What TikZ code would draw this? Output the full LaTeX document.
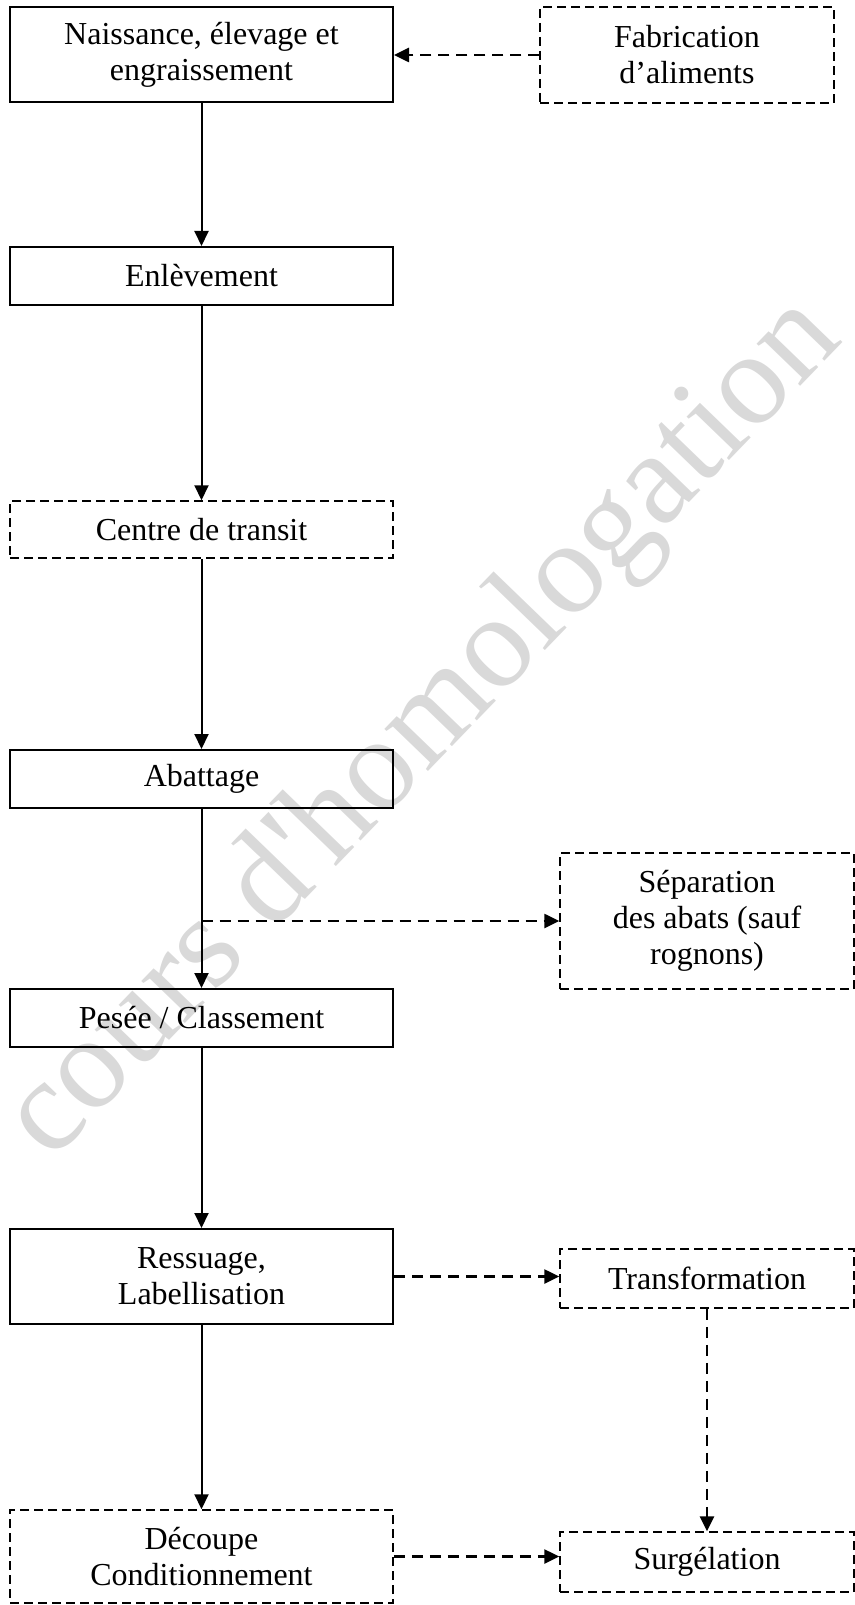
\documentclass[tikz,border=0pt]{standalone}
\usepackage{fontspec}
\setmainfont{Liberation Serif}
\usetikzlibrary{arrows.meta}
\tikzset{
  etape/.style={draw,line width=1pt,minimum width=191.5pt,align=center,inner sep=2pt},
  pointille/.style={dash pattern=on 4.5pt off 2.5pt,line width=0.75pt},
  petit/.style={minimum width=147pt},
  fleche/.style={-{Triangle[length=7.5pt,width=7pt]},line width=1pt},
  flechept/.style={fleche,dash pattern=on 5.5pt off 3.5pt,line width=1.3pt}
}
\begin{document}
\begin{tikzpicture}[x=0.5pt,y=-0.5pt,font=\fontsize{16}{18}\selectfont]
        \useasboundingbox (0,0) rectangle (855,1605);
        % filigrane
        \node[text=black!15,rotate=46,font=\fontsize{66}{70}\selectfont] (filigrane) at (425,730) {cours d\textquotesingle homologation};

        % colonne principale
        \node[etape,minimum height=47.5pt] (naissance) at (201.5,54.5) {Naissance, élevage et\\engraissement};
        \node[etape,minimum height=29pt] (enlevement) at (201.5,276) {Enlèvement};
        \node[etape,pointille,minimum height=28.5pt] (centre) at (201.5,529.5) {Centre de transit};
        \node[etape,minimum height=29pt] (abattage) at (201.5,779) {Abattage};
        \node[etape,minimum height=29pt] (pesee) at (201.5,1018) {Pesée / Classement};
        \node[etape,minimum height=47.5pt] (ressuage) at (201.5,1276.5) {Ressuage,\\Labellisation};
        \node[etape,pointille,minimum height=46.5pt] (decoupe) at (201.5,1556.5) {Découpe\\Conditionnement};

        % colonne de droite
        \node[etape,pointille,petit,minimum height=48pt] (fabrication) at (687,55) {Fabrication\\d’aliments};
        \node[etape,pointille,petit,minimum height=68pt] (separation) at (707,921) {Séparation\\des abats (sauf\\rognons)};
        \node[etape,pointille,petit,minimum height=29.5pt] (transformation) at (707,1278.5) {Transformation};
        \node[etape,pointille,petit,minimum height=30pt] (surgelation) at (707,1562) {Surgélation};

        % fleches
        \draw[fleche] (naissance) -- (enlevement);
        \draw[fleche] (enlevement) -- (centre);
        \draw[fleche] (centre) -- (abattage);
        \draw[fleche] (abattage) -- (pesee);
        \draw[fleche] (pesee) -- (ressuage);
        \draw[fleche] (ressuage) -- (decoupe);

        \coordinate (embranchement) at (abattage.south |- separation.west);
        \draw[flechept] (fabrication.west) -- (fabrication.west -| naissance.east);
        \draw[flechept] (embranchement) -- (separation.west);
        \draw[flechept] (ressuage.east) -- (ressuage.east -| transformation.west);
        \draw[flechept] (transformation) -- (surgelation);
        \draw[flechept] (decoupe.east) -- (decoupe.east -| surgelation.west);
      \end{tikzpicture}
\end{document}
